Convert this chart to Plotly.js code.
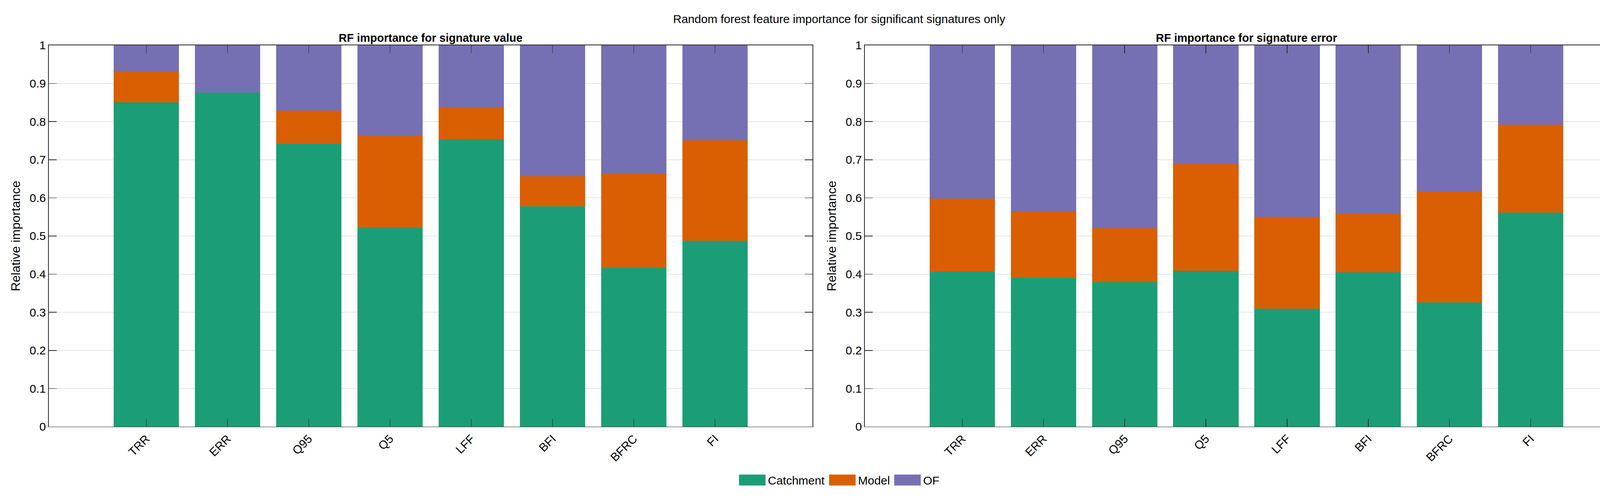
<!DOCTYPE html>
<html>
<head>
<meta charset="utf-8">
<script src="https://cdn.plot.ly/plotly-3.0.1.min.js"></script>
<style>
  body { margin: 0; background: #fff; }
  #chart { width: 4204px; height: 1277px; }
  /* big rectangular legend patches, as in the original figure */
  #chart .legend .legendpoints path {
    transform: translate(40px, 0px) scale(5.58, 2.25) !important;
    vector-effect: non-scaling-stroke;
  }
</style>
</head>
<body>
<div id="chart"></div>
<script>
// signatures on the x axis (same order in both panels)
const signatures = ["TRR", "ERR", "Q95", "Q5", "LFF", "BFI", "BFRC", "FI"];
const groupNames = ["Catchment", "Model", "OF"];
const groupColors = ["#1b9e77", "#d95f02", "#7570b3"];
const yTicks = [0, 0.1, 0.2, 0.3, 0.4, 0.5, 0.6, 0.7, 0.8, 0.9, 1];
const yTickText = ["0", "0.1", "0.2", "0.3", "0.4", "0.5", "0.6", "0.7", "0.8", "0.9", "1"];

// RF importance for signature value (stacked shares)
const valueCatchment = [0.851, 0.877, 0.742, 0.522, 0.755, 0.578, 0.417, 0.488];
const valueModel = [0.082, 0.0, 0.087, 0.242, 0.084, 0.079, 0.246, 0.264];
const valueOF = [0.067, 0.123, 0.171, 0.236, 0.161, 0.343, 0.337, 0.248];

// RF importance for signature error (stacked shares)
const errorCatchment = [0.407, 0.391, 0.380, 0.409, 0.310, 0.405, 0.326, 0.562];
const errorModel = [0.192, 0.174, 0.141, 0.280, 0.241, 0.154, 0.292, 0.230];
const errorOF = [0.401, 0.435, 0.479, 0.311, 0.449, 0.441, 0.382, 0.208];

const FONT = "Liberation Sans, Arial, Helvetica, sans-serif";
const TXT = "#262626";

function barTrace(values, idx, axisNum) {
  return {
    type: "bar",
    name: groupNames[idx],
    x: signatures,
    y: values,
    xaxis: axisNum === 1 ? "x" : "x2",
    yaxis: axisNum === 1 ? "y" : "y2",
    showlegend: axisNum === 1,
    legendgroup: groupNames[idx],
    marker: {
      color: groupColors[idx],
      line: { color: groupColors[idx], width: 1 },
    },
    hoverinfo: "x+y+name",
  };
}

const data = [
  barTrace(valueCatchment, 0, 1),
  barTrace(valueModel, 1, 1),
  barTrace(valueOF, 2, 1),
  barTrace(errorCatchment, 0, 2),
  barTrace(errorModel, 1, 2),
  barTrace(errorOF, 2, 2),
];

function xAxis(domain, anchor) {
  return {
    domain: domain,
    anchor: anchor,
    type: "category",
    range: [-1.2, 8.2],
    showline: true,
    linecolor: TXT,
    linewidth: 1.5,
    mirror: "ticks",
    ticks: "inside",
    ticklen: 20,
    tickwidth: 1.5,
    tickcolor: TXT,
    tickangle: -45,
    tickfont: { family: FONT, size: 30, color: "#000000" },
    showgrid: false,
    zeroline: false,
    automargin: false,
    fixedrange: true,
  };
}

function yAxis(anchor) {
  return {
    domain: [0.1449, 0.9092],
    anchor: anchor,
    range: [0, 1],
    tickvals: yTicks,
    ticktext: yTickText,
    showline: true,
    linecolor: TXT,
    linewidth: 1.5,
    mirror: "ticks",
    ticks: "inside",
    ticklen: 20,
    tickwidth: 1.5,
    tickcolor: TXT,
    tickfont: { family: FONT, size: 30, color: "#000000" },
    showgrid: true,
    gridcolor: "#e6e6e6",
    gridwidth: 2,
    zeroline: false,
    automargin: false,
    fixedrange: true,
    title: {
      text: "Relative importance",
      font: { family: FONT, size: 32, color: "#000000" },
      standoff: 14,
    },
  };
}

const layout = {
  width: 4204,
  height: 1277,
  margin: { l: 0, r: 0, t: 0, b: 0 },
  paper_bgcolor: "#ffffff",
  plot_bgcolor: "#ffffff",
  barmode: "stack",
  bargap: 0.2,
  font: { family: FONT, size: 30, color: TXT },
  title: {
    text: "Random forest feature importance for significant signatures only",
    font: { family: FONT, size: 30, color: "#000000" },
    x: 0.511,
    xanchor: "center",
    y: 0.962,
    yanchor: "middle",
  },
  xaxis: xAxis([0.02973, 0.49477], "y"),
  yaxis: yAxis("x"),
  xaxis2: xAxis([0.52664, 0.99144], "y2"),
  yaxis2: yAxis("x2"),
  annotations: [
    {
      text: "<b>RF importance for signature value</b>",
      xref: "paper", yref: "paper",
      x: 0.26225, y: 0.924, xanchor: "center", yanchor: "middle",
      showarrow: false,
      font: { family: FONT, size: 29, color: "#000000" },
    },
    {
      text: "<b>RF importance for signature error</b>",
      xref: "paper", yref: "paper",
      x: 0.75904, y: 0.924, xanchor: "center", yanchor: "middle",
      showarrow: false,
      font: { family: FONT, size: 29, color: "#000000" },
    },
  ],
  showlegend: true,
  legend: {
    orientation: "h",
    x: 0.511,
    xanchor: "center",
    y: 0.038,
    yanchor: "middle",
    font: { family: FONT, size: 30, color: "#000000" },
    itemwidth: 70,
    traceorder: "normal",
    bgcolor: "rgba(0,0,0,0)",
  },
};

const config = { responsive: false, staticPlot: true, displayModeBar: false };

Plotly.newPlot("chart", data, layout, config);
</script>
</body>
</html>
